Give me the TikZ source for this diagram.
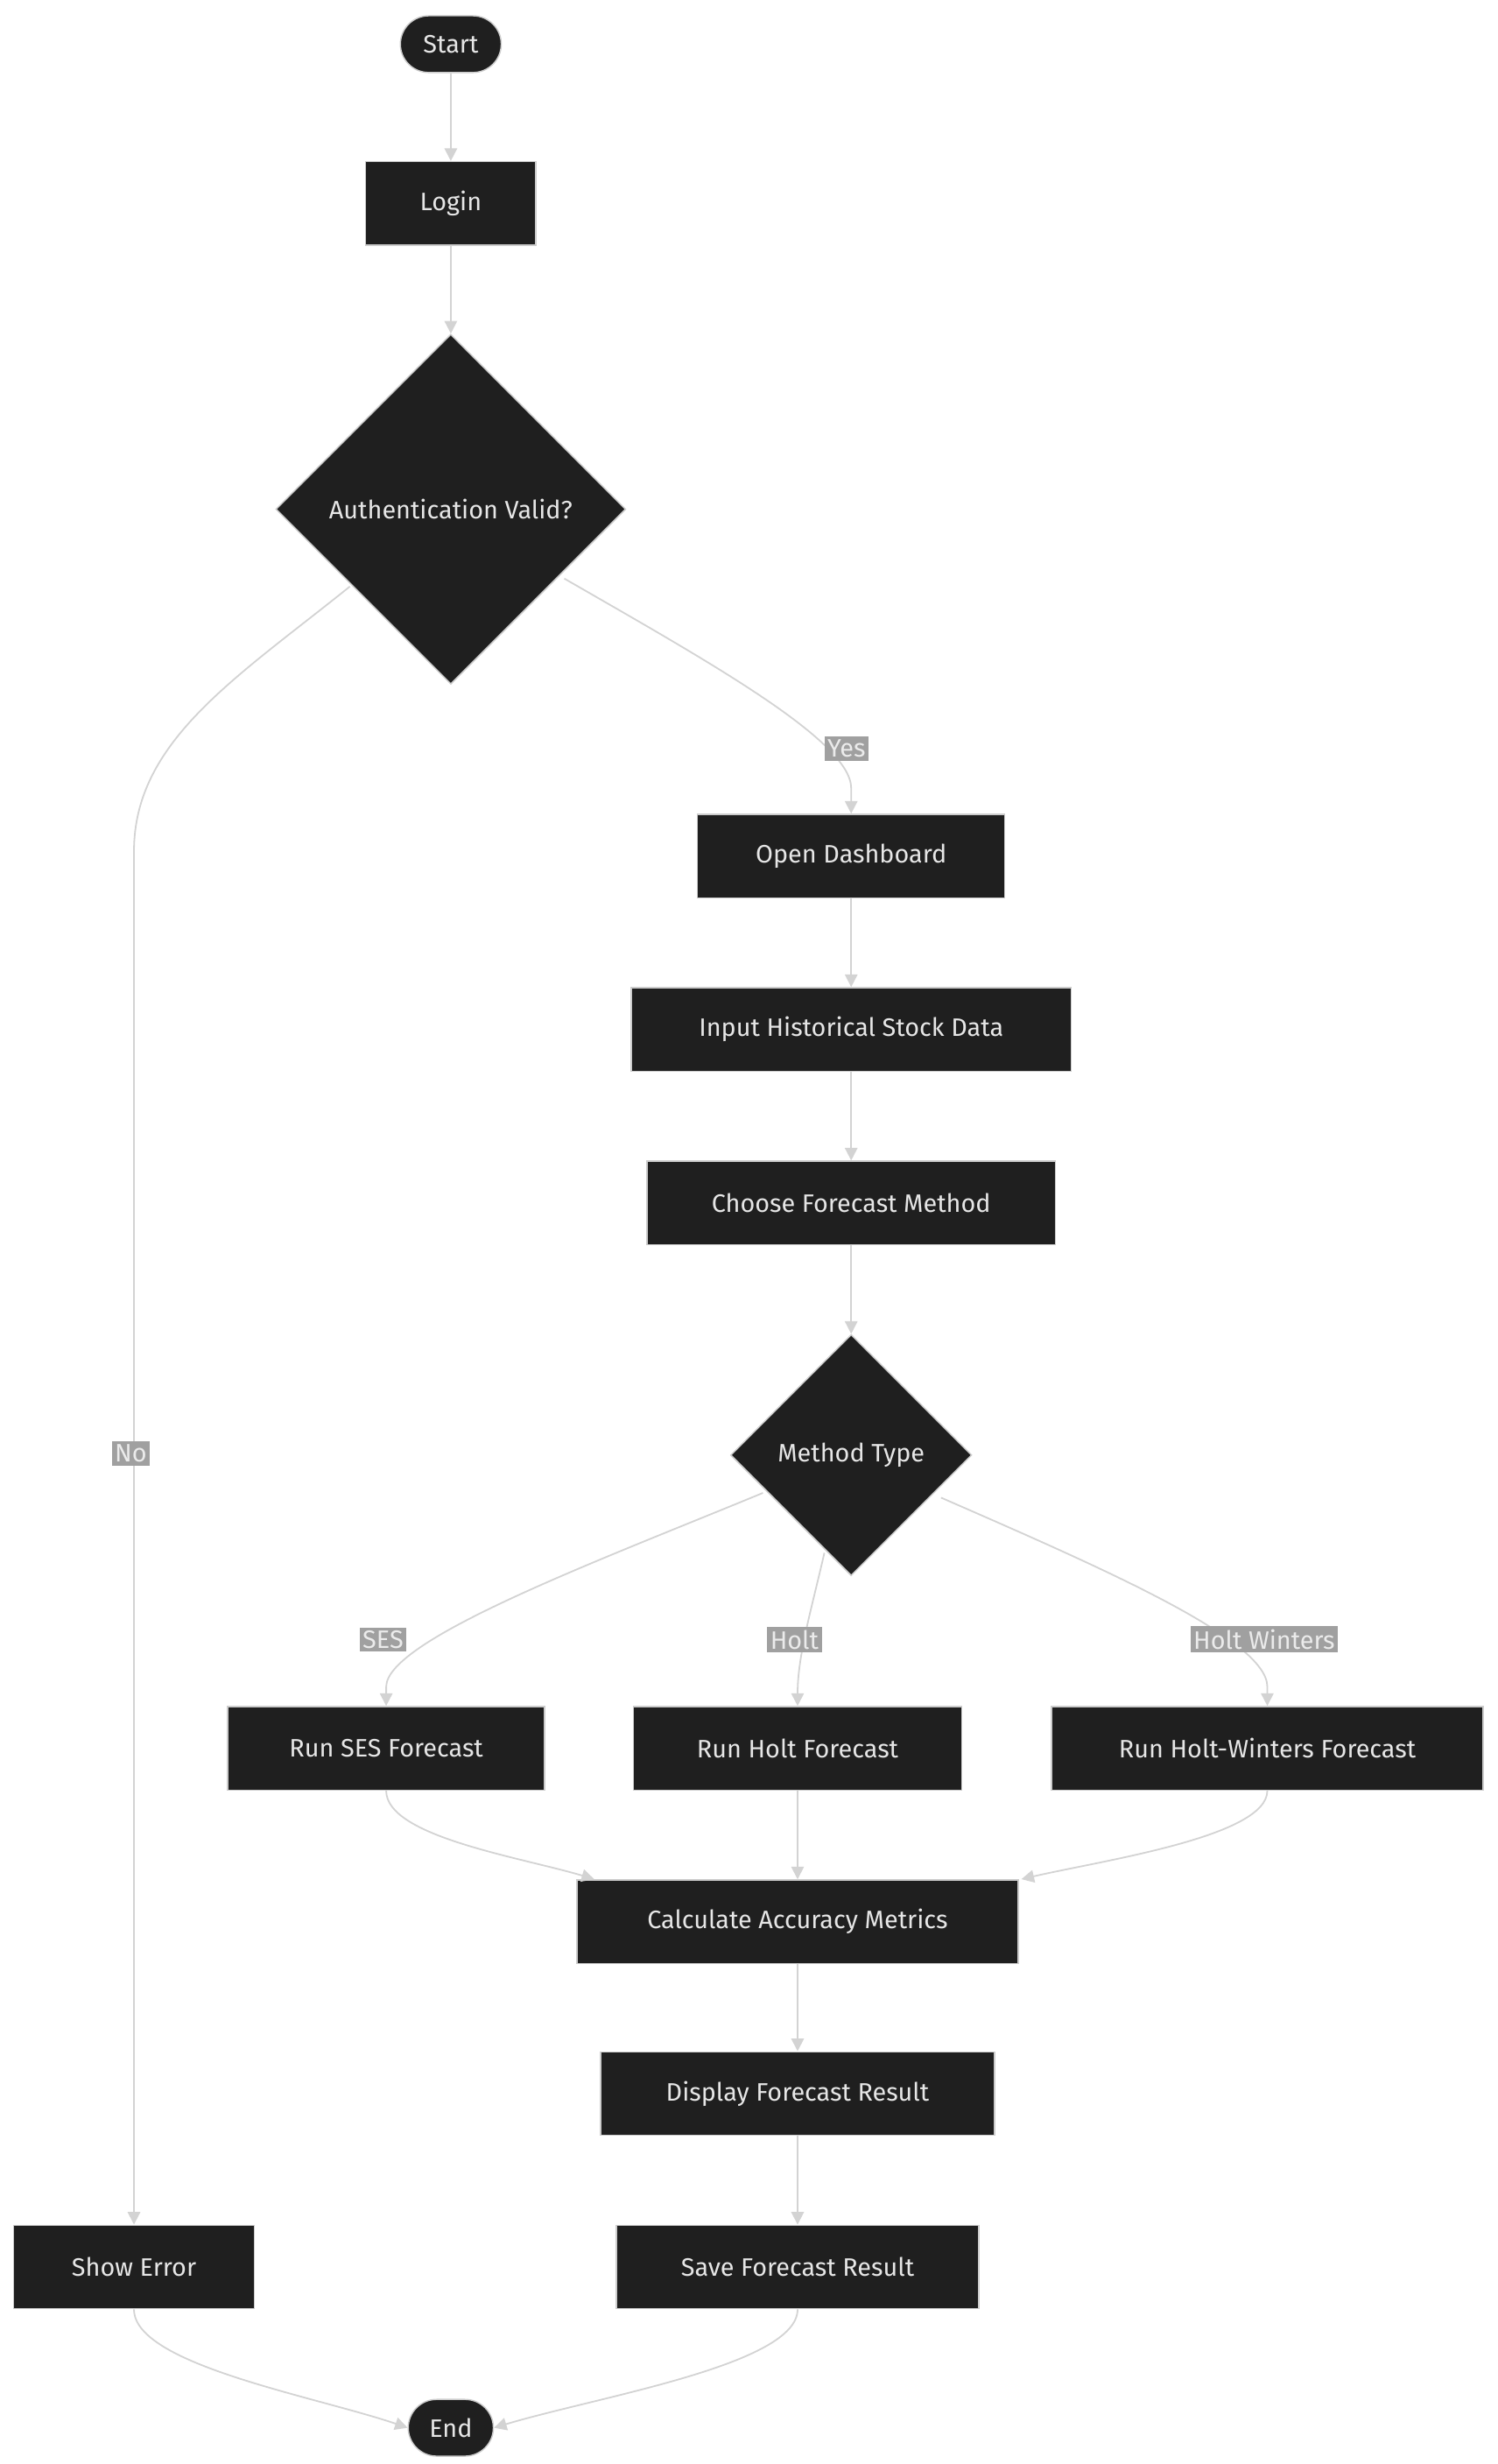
\documentclass[tikz,border=0pt]{standalone}
\usepackage{fontspec}
\setmainfont{Fira Sans}
\usetikzlibrary{shapes.geometric,shapes.misc,arrows.meta}
\definecolor{nfill}{HTML}{1F1F1F}
\definecolor{nline}{HTML}{CCCCCC}
\definecolor{eline}{HTML}{D3D3D3}
\definecolor{lfill}{HTML}{A0A0A0}
\definecolor{ntext}{HTML}{E6E6E6}
\begin{document}
\begin{tikzpicture}[x=1pt,y=-1pt,
 base/.style={fill=nfill,draw=nline,line width=0.8pt,text=ntext,font=\fontsize{16}{18}\selectfont},
 box/.style={base,rectangle,minimum height=53pt,inner sep=0pt},
 term/.style={base,rounded rectangle,minimum height=36pt,inner sep=0pt},
 dia/.style={base,diamond,inner sep=0pt},
 lab/.style={fill=lfill,text=ntext!80!white,inner sep=2pt,font=\fontsize{16}{18}\selectfont},
 e/.style={draw=eline,line width=1pt,-{Triangle[length=8pt,width=8pt]}}]
\useasboundingbox[fill=white] (0,0) rectangle (950,1563);
\node[term,minimum width=64pt] (start) at (286,28) {Start};
\node[box,minimum width=108pt] (login) at (286,129) {Login};
\node[dia,minimum width=222pt,minimum height=222pt] (auth) at (286,323) {Authentication Valid?};
\node[box,minimum width=195pt] (dash) at (540,543) {Open Dashboard};
\node[box,minimum width=279pt] (input) at (540,653) {Input Historical Stock Data};
\node[box,minimum width=259pt] (choose) at (540,763) {Choose Forecast Method};
\node[dia,minimum width=153pt,minimum height=153pt] (mt) at (540,923) {Method Type};
\node[box,minimum width=201pt] (ses) at (245,1109) {Run SES Forecast};
\node[box,minimum width=208pt] (holt) at (506,1109) {Run Holt Forecast};
\node[box,minimum width=274pt] (hw) at (804,1109) {Run Holt-Winters Forecast};
\node[box,minimum width=280pt] (calc) at (506,1219) {Calculate Accuracy Metrics};
\node[box,minimum width=250pt] (disp) at (506,1328) {Display Forecast Result};
\node[box,minimum width=230pt] (save) at (506,1438) {Save Forecast Result};
\node[box,minimum width=153pt] (err) at (85,1438) {Show Error};
\node[term,minimum width=54pt] (end) at (286,1540) {End};

\draw[e] (start) -- (login);
\draw[e] (login) -- (auth);
\draw[e] (222,372) .. controls (150,430) and (85,470) .. (85,540) -- (err.north);
\draw[e] (358,367) .. controls (450,420) and (540,470) .. (540,500) -- (dash.north);
\draw[e] (dash) -- (input);
\draw[e] (input) -- (choose);
\draw[e] (choose) -- (mt);
\draw[e] (484,947) .. controls (380,990) and (245,1040) .. (245,1070) -- (ses.north);
\draw[e] (523,985) .. controls (515,1020) and (506,1050) .. (holt.north);
\draw[e] (597,950) .. controls (700,995) and (804,1040) .. (804,1070) -- (hw.north);
\draw[e] (ses.south) .. controls (245,1165) and (330,1178) .. (377,1192);
\draw[e] (holt) -- (calc);
\draw[e] (hw.south) .. controls (804,1165) and (700,1180) .. (648,1192);
\draw[e] (calc) -- (disp);
\draw[e] (disp) -- (save);
\draw[e] (err.south) .. controls (85,1500) and (200,1520) .. (end.west);
\draw[e] (save.south) .. controls (506,1500) and (380,1520) .. (end.east);

\node[lab] (lyes) at (537,475) {Yes};
\node[lab] (lno) at (83,922) {No};
\node[lab] (lses) at (243,1040) {SES};
\node[lab] (lholt) at (504,1040) {Holt};
\node[lab] (lhw) at (802,1040) {Holt Winters};
\end{tikzpicture}
\end{document}
